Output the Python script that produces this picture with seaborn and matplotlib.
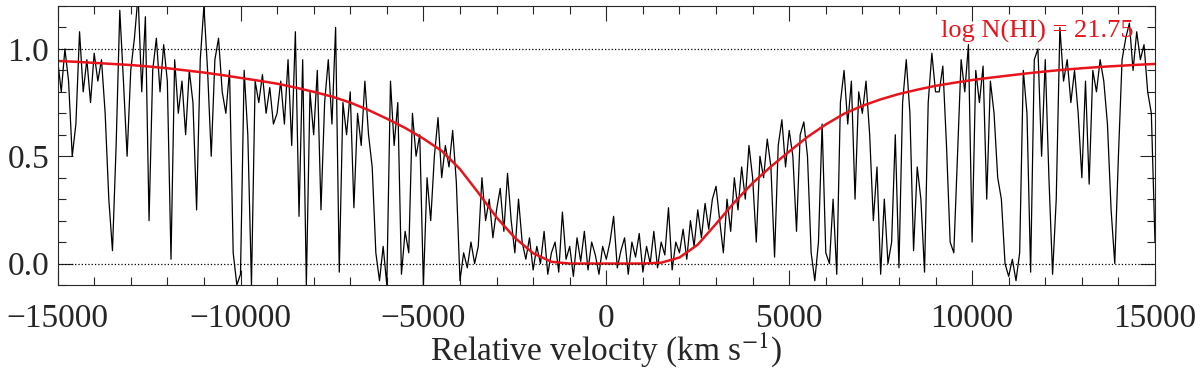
import numpy as np
import pandas as pd
import seaborn as sns
import matplotlib.pyplot as plt
from matplotlib.ticker import MultipleLocator

flux_obs = [
    0.95, 0.80, 1.00, 0.85, 0.50, 0.65, 1.08, 0.80, 0.95, 0.75,    # -15000
    0.98, 0.85, 0.95, 0.70, 0.30, 0.06, 0.55, 1.18, 0.85, 0.50,    # -14000
    0.90, 1.05, 1.25, 0.80, 1.15, 0.20, 0.90, 1.05, 0.80, 1.02,    # -13000
    0.85, 0.02, 0.95, 0.70, 0.85, 0.60, 0.90, 0.75, 0.25, 0.95,    # -12000
    1.20, 0.90, 0.50, 0.95, 1.05, 0.80, 0.70, 0.90, 0.05, -0.10,   # -11000
    -0.05, 0.90, 0.60, -0.10, 0.85, 0.75, 0.88, 0.70, 0.82, 0.65,  # -10000
    0.70, 0.85, 0.65, 0.95, 0.55, 1.08, 0.22, 0.95, -0.10, 0.80,   # -9000
    0.60, 0.90, 0.25, 0.75, 0.95, 0.65, 1.10, -0.04, 0.75, 0.60,   # -8000
    0.80, 0.26, 0.70, 0.55, 0.85, 0.60, 0.45, 0.05, -0.08, 0.08,   # -7000
    -0.10, 0.85, 0.55, 0.75, -0.05, 0.15, 0.05, 0.70, 0.50, 0.60,  # -6000
    -0.10, 0.40, 0.20, 0.50, 0.68, 0.40, 0.55, 0.45, 0.62, 0.38,   # -5000
    -0.08, 0.05, -0.02, 0.10, 0.00, 0.08, 0.40, 0.20, 0.30, 0.12,  # -4000
    0.25, 0.35, 0.15, 0.42, 0.20, 0.05, 0.30, 0.10, 0.02, 0.12,    # -3000
    -0.03, 0.08, 0.00, 0.15, -0.05, 0.05, 0.10, -0.04, 0.24, 0.02, # -2000
    0.08, -0.06, 0.12, 0.01, 0.15, -0.03, 0.10, 0.04, -0.05, 0.08, # -1000
    0.02, 0.10, 0.22, -0.02, 0.06, 0.12, -0.05, 0.10, 0.03, 0.14,  # 0
    -0.04, 0.08, 0.00, 0.15, -0.02, 0.10, 0.04, 0.26, -0.03, 0.10, # 1000
    0.05, 0.16, 0.02, 0.20, 0.08, 0.25, 0.12, 0.28, 0.16, 0.30,    # 2000
    0.36, 0.20, 0.05, 0.30, 0.15, 0.40, 0.25, 0.45, 0.30, 0.55,    # 3000
    0.40, 0.10, 0.50, 0.40, 0.58, 0.45, 0.03, 0.55, 0.67, 0.45,    # 4000
    0.62, 0.50, 0.15, 0.60, 0.66, 0.50, 0.05, -0.08, 0.10, 0.65,   # 5000
    0.05, 0.00, 0.30, -0.05, 0.75, 0.90, 0.65, 0.85, 0.30, 0.80,   # 6000
    0.70, 0.85, 0.60, 0.20, 0.45, -0.05, 0.30, 0.00, 0.10, 0.60,   # 7000
    -0.02, 0.75, 0.95, 0.70, 0.06, 0.45, 0.30, -0.04, 0.75, 0.98,  # 8000
    0.80, 0.80, 0.92, 0.55, 0.10, 0.05, 0.50, 0.95, 0.80, 1.02,    # 9000
    0.10, 0.90, 0.75, 0.92, 0.30, 0.85, 0.70, 0.40, 0.30, 0.00,    # 10000
    -0.06, 0.02, -0.08, 0.05, 0.90, 0.70, -0.04, 0.95, 1.00, 0.50, # 11000
    0.95, 0.40, -0.05, 0.30, 1.10, 0.85, 0.95, 0.75, 0.90, 0.70,   # 12000
    0.40, 0.85, 0.37, 0.90, 0.80, 0.95, 0.85, 0.65, 0.25, 0.00,    # 13000
    0.50, 0.95, 1.05, 1.12, 0.90, 1.08, 0.95, 1.02, 0.80, 0.70,    # 14000
    0.10,                                                          # 15000
]
vel_obs = np.arange(-15000, 15001, 100)

# DLA model profile (red), every 500 km/s
vel_model = np.arange(-15000, 15001, 500)
flux_model = [
    0.944, 0.940, 0.935, 0.930, 0.925, 0.918, 0.910, 0.900, 0.890, 0.878,
    0.865, 0.852, 0.838, 0.820, 0.800, 0.778, 0.750, 0.715, 0.675, 0.632,
    0.582, 0.525, 0.440, 0.330, 0.215, 0.120, 0.048, 0.008, 0.000, 0.000,
    0.000, 0.000, 0.000, 0.004, 0.028, 0.088, 0.185, 0.285, 0.375, 0.452,
    0.522, 0.590, 0.648, 0.698, 0.735, 0.765, 0.790, 0.810, 0.828, 0.842,
    0.855, 0.866, 0.876, 0.886, 0.895, 0.903, 0.910, 0.916, 0.921, 0.926,
    0.930,
]
label_text = "log N(HI) = 21.75"

df_obs = pd.DataFrame({"v": vel_obs, "f": flux_obs})
df_mod = pd.DataFrame({"v": vel_model, "f": flux_model})

sns.set_style("ticks")
plt.rcParams["font.family"] = ["Liberation Serif", "DejaVu Serif"]
plt.rcParams["mathtext.fontset"] = "stix"

fig = plt.figure(figsize=(12, 3.75), dpi=100)
ax = fig.add_axes([0.048, 0.24, 0.9145, 0.744])

sns.lineplot(data=df_obs, x="v", y="f", color="black", lw=0.9,
             estimator=None, ax=ax)
sns.lineplot(data=df_mod, x="v", y="f", color="#e8141c", lw=1.8,
             estimator=None, ax=ax)

ax.axhline(0, ls=":", color="black", lw=0.9)
ax.axhline(1, ls=":", color="black", lw=0.9)

ax.set_xlim(-15000, 15000)
ax.set_ylim(-0.1, 1.2)
ax.xaxis.set_major_locator(MultipleLocator(5000))
ax.xaxis.set_minor_locator(MultipleLocator(1000))
ax.yaxis.set_major_locator(MultipleLocator(0.5))
ax.yaxis.set_minor_locator(MultipleLocator(0.1))
ax.yaxis.set_major_formatter(plt.FormatStrFormatter("%.1f"))
ax.tick_params(which="both", direction="in", top=True, right=True,
               labelsize=24, width=0.8)
ax.tick_params(axis="x", pad=13)
ax.tick_params(axis="y", pad=6)
ax.tick_params(which="major", length=11)
ax.tick_params(which="minor", length=6)
for s in ax.spines.values():
    s.set_linewidth(0.8)

ax.set_xlabel(r"Relative velocity (km s$^{-1}$)", fontsize=24, labelpad=-2)
ax.set_ylabel("")
ax.text(14400, 1.08, label_text, color="#e8141c", fontsize=19,
        ha="right", va="center")

fig.savefig("out.png", dpi=100)
